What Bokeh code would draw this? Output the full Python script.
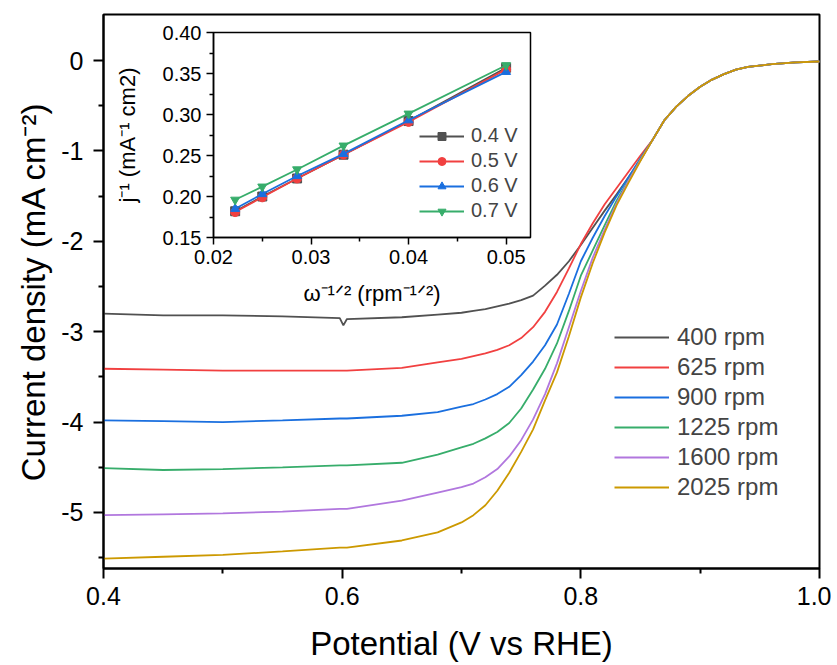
from bokeh.plotting import figure
from bokeh.models import FixedTicker, Legend, LegendItem, Range1d
from bokeh.layouts import column
from bokeh.embed import file_html
from bokeh.resources import INLINE

# ---------------- data: main LSV curves ----------------
POTENTIAL = [0.40, 0.45, 0.50, 0.55, 0.598, 0.601, 0.604, 0.65, 0.68, 0.70,
             0.71, 0.72, 0.73, 0.74, 0.75, 0.76, 0.77, 0.78, 0.79, 0.80,
             0.81, 0.82, 0.83, 0.84, 0.85,
             0.86, 0.87, 0.88, 0.89, 0.90, 0.91, 0.92, 0.93, 0.94, 0.96,
             0.98, 1.00]
TAIL = [-0.88, -0.66, -0.51, -0.39, -0.29, -0.21, -0.15, -0.10, -0.07, -0.04, -0.02, -0.01]

J_400 = [-2.80, -2.82, -2.82, -2.83, -2.85, -2.93, -2.86, -2.84, -2.81, -2.79,
         -2.77, -2.75, -2.72, -2.69, -2.65, -2.60, -2.49, -2.37, -2.22, -2.04,
         -1.85, -1.66, -1.48, -1.29, -1.10] + TAIL
J_625 = [-3.41, -3.42, -3.43, -3.43, -3.43, -3.43, -3.43, -3.40, -3.34, -3.30,
         -3.27, -3.24, -3.20, -3.15, -3.07, -2.95, -2.78, -2.56, -2.30, -2.03,
         -1.80, -1.59, -1.41, -1.23, -1.05] + TAIL
J_900 = [-3.98, -3.99, -4.00, -3.98, -3.96, -3.96, -3.96, -3.93, -3.89, -3.83,
         -3.80, -3.75, -3.69, -3.61, -3.48, -3.33, -3.15, -2.92, -2.58, -2.22,
         -1.96, -1.72, -1.50, -1.29, -1.08] + TAIL
J_1225 = [-4.51, -4.53, -4.52, -4.50, -4.48, -4.48, -4.48, -4.45, -4.36, -4.28,
          -4.24, -4.18, -4.11, -4.01, -3.85, -3.64, -3.41, -3.13, -2.77, -2.38,
          -2.10, -1.82, -1.55, -1.32, -1.09] + TAIL
J_1600 = [-5.03, -5.02, -5.01, -4.99, -4.96, -4.96, -4.96, -4.87, -4.78, -4.72,
          -4.68, -4.61, -4.52, -4.38, -4.20, -3.97, -3.69, -3.35, -2.95, -2.55,
          -2.18, -1.87, -1.58, -1.33, -1.10] + TAIL
J_2025 = [-5.51, -5.49, -5.47, -5.43, -5.39, -5.39, -5.39, -5.31, -5.22, -5.11,
          -5.03, -4.92, -4.76, -4.56, -4.33, -4.08, -3.76, -3.45, -3.05, -2.62,
          -2.24, -1.90, -1.60, -1.35, -1.11] + TAIL

RPM_LABELS = ["400 rpm", "625 rpm", "900 rpm", "1225 rpm", "1600 rpm", "2025 rpm"]
RPM_COLORS = ["#515151", "#F14040", "#1A6FDF", "#37AD6B", "#B177DE", "#CC9900"]
CURVES = [J_400, J_625, J_900, J_1225, J_1600, J_2025]

X_TICKS = [0.4, 0.6, 0.8, 1.0]
X_MINOR = [0.5, 0.7, 0.9]
X_LABELS = ["0.4", "0.6", "0.8", "1.0"]
Y_TICKS = [0, -1, -2, -3, -4, -5]
Y_MINOR = [-0.5, -1.5, -2.5, -3.5, -4.5, -5.5]
Y_LABELS = ["0", "-1", "-2", "-3", "-4", "-5"]

# ---------------- data: inset K-L plot ----------------
OMEGA_INV = [0.02222, 0.025, 0.02857, 0.03333, 0.04, 0.05]
KL_04 = [0.182, 0.200, 0.222, 0.251, 0.292, 0.357]
KL_05 = [0.181, 0.199, 0.222, 0.251, 0.291, 0.355]
KL_06 = [0.185, 0.203, 0.225, 0.252, 0.293, 0.352]
KL_07 = [0.196, 0.212, 0.233, 0.262, 0.301, 0.360]
KL_LABELS = ["0.4 V", "0.5 V", "0.6 V", "0.7 V"]
KL_COLORS = ["#515151", "#F14040", "#1A6FDF", "#37AD6B"]
KL_MARKERS = ["square", "circle", "triangle", "inverted_triangle"]
KL_SERIES = [KL_04, KL_05, KL_06, KL_07]

IX_TICKS = [0.02, 0.03, 0.04, 0.05]
IX_MINOR = [0.025, 0.035, 0.045]
IX_LABELS = ["0.02", "0.03", "0.04", "0.05"]
IY_TICKS = [0.15, 0.20, 0.25, 0.30, 0.35, 0.40]
IY_MINOR = [0.175, 0.225, 0.275, 0.325, 0.375]
IY_LABELS = ["0.15", "0.20", "0.25", "0.30", "0.35", "0.40"]

FONT = "Liberation Sans"


def style_axes(fig, tick_size, title_size, lw):
    for ax in fig.axis:
        ax.axis_line_width = lw
        ax.axis_line_color = "black"
        ax.major_tick_line_width = lw
        ax.minor_tick_line_width = lw
        ax.major_tick_line_color = "black"
        ax.minor_tick_line_color = "black"
        ax.major_label_text_font = FONT
        ax.major_label_text_font_size = tick_size
        ax.major_label_text_color = "black"
        ax.axis_label_text_font = FONT
        ax.axis_label_text_font_size = title_size
        ax.axis_label_text_font_style = "normal"
        ax.axis_label_text_color = "black"
    fig.grid.visible = False
    fig.outline_line_color = "black"
    fig.outline_line_width = lw
    fig.outline_line_alpha = 1.0


# ---------------- main figure ----------------
p = figure(frame_width=716, frame_height=554, output_backend="svg",
           toolbar_location=None,
           x_range=Range1d(0.4, 1.0), y_range=Range1d(-5.62, 0.51),
           min_border_left=95, min_border_right=20, min_border_top=14,
           min_border_bottom=88)
p.xaxis.axis_label = "Potential (V vs RHE)"
p.yaxis.axis_label = "Current density (mA cm\u207b\u00b2)"
p.xaxis.ticker = FixedTicker(ticks=X_TICKS, minor_ticks=X_MINOR)
p.yaxis.ticker = FixedTicker(ticks=Y_TICKS, minor_ticks=Y_MINOR)
p.xaxis.major_label_overrides = dict(zip(X_TICKS, X_LABELS))
p.yaxis.major_label_overrides = dict(zip(Y_TICKS, Y_LABELS))
style_axes(p, "25px", "33px", 2)
for ax in p.axis:
    ax.major_tick_out = 10
    ax.major_tick_in = 0
    ax.minor_tick_out = 5
    ax.minor_tick_in = 0
p.xaxis.major_label_standoff = 8
p.xaxis.axis_label_standoff = 17
p.yaxis.major_label_standoff = 10
p.yaxis.axis_label_standoff = 6

items = []
for lab, col, ys in zip(RPM_LABELS, RPM_COLORS, CURVES):
    r = p.line(POTENTIAL, ys, line_color=col, line_width=1.8)
    items.append(LegendItem(label=lab, renderers=[r]))
leg = Legend(items=items, location=(511, 67), border_line_color=None,
             background_fill_alpha=0, label_text_font=FONT,
             label_text_font_size="24px", glyph_width=55, glyph_height=24,
             label_height=24, spacing=2, padding=0, margin=0,
             label_standoff=8)
p.add_layout(leg)

# ---------------- inset figure ----------------
q = figure(frame_width=317, frame_height=205, output_backend="svg",
           toolbar_location=None,
           x_range=Range1d(0.02, 0.0525), y_range=Range1d(0.15, 0.40),
           min_border_left=103, min_border_right=10, min_border_top=10,
           min_border_bottom=75, background_fill_color=None,
           border_fill_color=None)
q.xaxis.axis_label = "\u03c9\u207b\u00b9\u141f\u00b2 (rpm\u207b\u00b9\u141f\u00b2)"
q.yaxis.axis_label = "j\u207b\u00b9 (mA\u207b\u00b9 cm2)"
q.xaxis.ticker = FixedTicker(ticks=IX_TICKS, minor_ticks=IX_MINOR)
q.yaxis.ticker = FixedTicker(ticks=IY_TICKS, minor_ticks=IY_MINOR)
q.xaxis.major_label_overrides = dict(zip(IX_TICKS, IX_LABELS))
q.yaxis.major_label_overrides = dict(zip(IY_TICKS, IY_LABELS))
style_axes(q, "20px", "22px", 1.5)
for ax in q.axis:
    ax.major_tick_out = 7
    ax.major_tick_in = 0
    ax.minor_tick_out = 4
    ax.minor_tick_in = 0
    ax.major_label_standoff = 5
q.xaxis.axis_label_standoff = 14
q.yaxis.axis_label_standoff = 20

kl_items = []
for lab, col, mk, ys in zip(KL_LABELS, KL_COLORS, KL_MARKERS, KL_SERIES):
    rl = q.line(OMEGA_INV, ys, line_color=col, line_width=1.8)
    rs = q.scatter(OMEGA_INV, ys, marker=mk, size=9, fill_color=col, line_color=col)
    kl_items.append(LegendItem(label=lab, renderers=[rl, rs]))
qleg = Legend(items=kl_items, location=(206, 15), border_line_color=None,
              background_fill_alpha=0, label_text_font=FONT,
              label_text_font_size="20px", glyph_width=45, glyph_height=20,
              label_height=20, spacing=2, padding=0, margin=0,
              label_standoff=7)
q.add_layout(qleg)
q.styles = {"position": "absolute", "left": "110px", "top": "22px"}

layout = column(p, q)
open("out.html", "w").write(file_html(layout, INLINE))
